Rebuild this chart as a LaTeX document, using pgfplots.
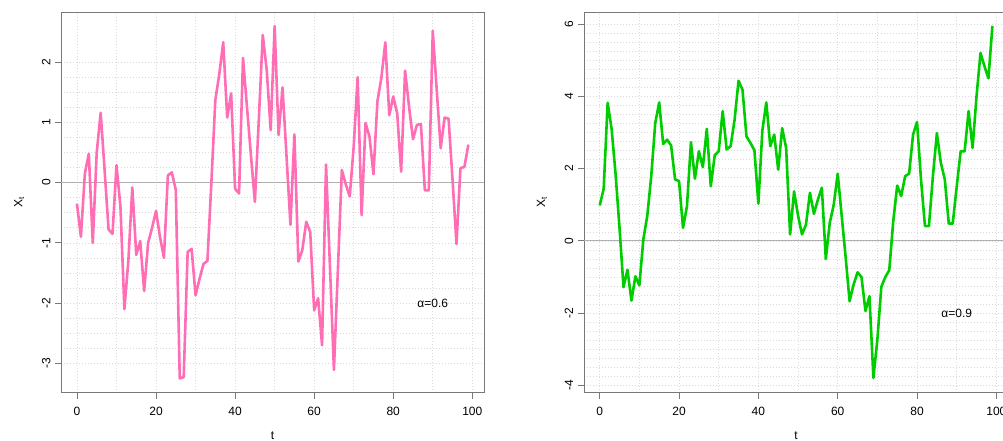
\documentclass[border=0pt]{standalone}
\usepackage{pgfplots}
\pgfplotsset{compat=1.18}
\usepackage{fontspec}
\setmainfont{Liberation Sans}

\definecolor{pinkline}{RGB}{255,110,180}
\definecolor{greenline}{RGB}{0,205,0}
\definecolor{gridgray}{RGB}{218,218,218}
\definecolor{boxgray}{RGB}{120,120,120}
\definecolor{zerogray}{RGB}{175,175,175}

\tikzset{lbl/.style={font=\fontsize{12}{14}\selectfont}}

% AR(1) sample paths, t = 0..99
\pgfplotstableread{
t x
0 -0.35
1 -0.90
2 0.15
3 0.48
4 -1.00
5 0.50
6 1.16
7 0.20
8 -0.78
9 -0.85
10 0.29
11 -0.40
12 -2.10
13 -1.30
14 -0.08
15 -1.20
16 -0.97
17 -1.80
18 -1.00
19 -0.75
20 -0.47
21 -0.90
22 -1.25
23 0.12
24 0.17
25 -0.12
26 -3.25
27 -3.23
28 -1.15
29 -1.10
30 -1.87
31 -1.60
32 -1.35
33 -1.30
34 0.00
35 1.37
36 1.80
37 2.33
38 1.08
39 1.48
40 -0.10
41 -0.18
42 2.07
43 1.26
44 0.46
45 -0.32
46 1.05
47 2.45
48 1.87
49 0.87
50 2.60
51 0.79
52 1.58
53 0.45
54 -0.70
55 0.80
56 -1.31
57 -1.12
58 -0.65
59 -0.82
60 -2.12
61 -1.92
62 -2.70
63 0.30
64 -1.40
65 -3.11
66 -1.45
67 0.21
68 -0.03
69 -0.23
70 0.60
71 1.75
72 -0.54
73 0.99
74 0.76
75 0.14
76 1.35
77 1.74
78 2.33
79 1.12
80 1.43
81 1.15
82 0.18
83 1.86
84 1.26
85 0.72
86 0.96
87 0.97
88 -0.13
89 -0.13
90 2.52
91 1.54
92 0.57
93 1.08
94 1.06
95 0.05
96 -1.02
97 0.24
98 0.26
99 0.63
}\seriesA

\pgfplotstableread{
t x
0 0.98
1 1.44
2 3.82
3 3.10
4 1.85
5 0.35
6 -1.28
7 -0.80
8 -1.65
9 -0.98
10 -1.23
11 0.04
12 0.70
13 1.80
14 3.26
15 3.83
16 2.68
17 2.80
18 2.64
19 1.70
20 1.65
21 0.36
22 0.96
23 2.73
24 1.72
25 2.48
26 2.04
27 3.10
28 1.51
29 2.37
30 2.48
31 3.59
32 2.53
33 2.62
34 3.35
35 4.43
36 4.18
37 2.89
38 2.71
39 2.51
40 1.03
41 3.05
42 3.83
43 2.62
44 2.94
45 1.97
46 3.12
47 2.57
48 0.18
49 1.37
50 0.70
51 0.18
52 0.45
53 1.33
54 0.75
55 1.14
56 1.47
57 -0.50
58 0.50
59 1.00
60 1.86
61 0.70
62 -0.45
63 -1.67
64 -1.21
65 -0.87
66 -1.00
67 -1.94
68 -1.53
69 -3.79
70 -2.73
71 -1.27
72 -1.00
73 -0.81
74 0.54
75 1.53
76 1.24
77 1.79
78 1.86
79 2.94
80 3.29
81 1.70
82 0.41
83 0.41
84 1.79
85 2.98
86 2.16
87 1.70
88 0.48
89 0.48
90 1.50
91 2.48
92 2.48
93 3.59
94 2.57
95 4.00
96 5.20
97 4.83
98 4.50
99 5.95
}\seriesB

\pgfplotsset{
  panel/.style={
    scale only axis,
    height=380.6pt,
    anchor=south west,
    clip mode=individual,
    xmin=-3.96, xmax=102.96,
    xtick={0,20,...,100},
    minor x tick num=1,
    grid=both,
    major grid style={gridgray, line width=0.6pt, dash pattern=on 1pt off 2pt},
    minor grid style={gridgray, line width=0.6pt, dash pattern=on 1pt off 2pt},
    tick pos=left,
    tick align=outside,
    major tick length=6pt,
    minor tick length=0pt,
    tick style={boxgray, line width=0.8pt},
    axis line style={boxgray, line width=0.8pt},
    /pgf/number format/assume math mode=true,
    every tick label/.append style={font=\fontsize{12}{14}\selectfont},
    xticklabel style={anchor=base},
    xticklabel shift=17pt,
    yticklabel style={rotate=90, anchor=base},
    yticklabel shift=5pt,
  },
}

\begin{document}
\begin{tikzpicture}

% alpha = 0.6
\begin{axis}[panel, at={(61.3pt,48.3pt)}, width=422.7pt,
  ymin=-3.488, ymax=2.831, ytick={-3,...,2}, minor y tick num=3]
  \draw[zerogray, line width=0.8pt] (axis cs:-3.96,0) -- (axis cs:102.96,0);
  \addplot[pinkline, line width=2.6pt, line join=round] table[x=t, y=x] {\seriesA};
  \node[lbl] at (axis cs:90,-2) {α=0.6};
  \node[lbl, anchor=base] at ([yshift=-46.5pt]axis description cs:0.5,0) {t};
  \node[lbl, rotate=90, anchor=base] at ([xshift=-39pt]axis description cs:0,0.5) {X\textsubscript{t}};
\end{axis}

% alpha = 0.9
\begin{axis}[panel, at={(584pt,48.3pt)}, width=424.1pt,
  ymin=-4.20, ymax=6.33, ytick={-4,-2,...,6}, minor y tick num=7]
  \draw[zerogray, line width=0.8pt] (axis cs:-3.96,0) -- (axis cs:102.96,0);
  \addplot[greenline, line width=2.6pt, line join=round] table[x=t, y=x] {\seriesB};
  \node[lbl] at (axis cs:90,-2) {α=0.9};
  \node[lbl, anchor=base] at ([yshift=-46.5pt]axis description cs:0.5,0) {t};
  \node[lbl, rotate=90, anchor=base] at ([xshift=-39pt]axis description cs:0,0.5) {X\textsubscript{t}};
\end{axis}

\pgfresetboundingbox
\useasboundingbox (0,0) rectangle (1003pt,441pt);
\end{tikzpicture}
\end{document}
